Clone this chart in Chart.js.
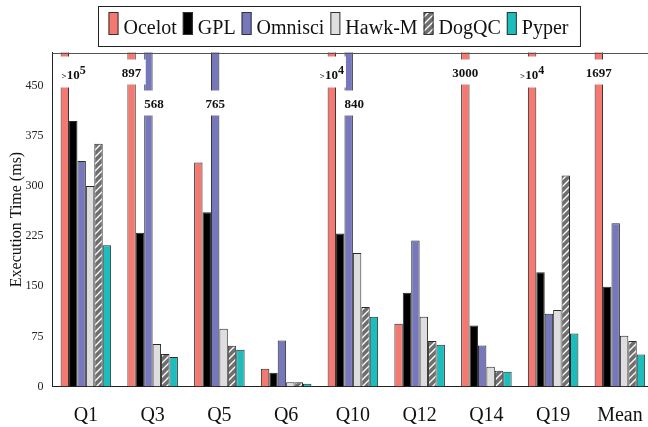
<!DOCTYPE html>
<html>
<head>
<meta charset="utf-8">
<script src="https://cdn.jsdelivr.net/npm/chart.js@4.4.1/dist/chart.umd.min.js"></script>
<style>
  html, body { margin: 0; padding: 0; background: #fff; overflow: hidden; width: 648px; height: 427px; }
  #wrap { position: relative; width: 660px; height: 427px; }
</style>
</head>
<body>
<div id="wrap"><canvas id="c" width="660" height="427"></canvas></div>
<script>
// Query execution times (ms); values beyond the axis are drawn clipped with a value label.
const categories = ['Q1', 'Q3', 'Q5', 'Q6', 'Q10', 'Q12', 'Q14', 'Q19', 'Mean'];
const seriesNames = ['Ocelot', 'GPL', 'Omnisci', 'Hawk-M', 'DogQC', 'Pyper'];
const ocelot  = [100000, 897, 335.5, 26.5, 10000, 94, 3000, 10000, 1697];
const gpl     = [397.5, 230, 261, 20.5, 229, 140.5, 91.5, 171, 149.5];
const omnisci = [337.5, 568, 765, 69, 840, 218.5, 61.5, 109, 244.5];
const hawkM   = [300, 63.5, 86.5, 6.5, 200, 104.5, 29.5, 114.5, 76];
const dogqc   = [363.5, 48.5, 61, 6.5, 119, 68, 23.5, 316, 68];
const pyper   = [211.5, 44, 55, 4, 104.5, 62.5, 22, 79.5, 48];
const yTicks  = [0, 75, 150, 225, 300, 375, 450];
const yMax = 500;

const SERIF = '"Liberation Serif", "Times New Roman", serif';

// gray fill with white diagonal hatching
function hatch() {
  const s = 7;
  const c = document.createElement('canvas');
  c.width = s; c.height = s;
  const g = c.getContext('2d');
  g.fillStyle = '#6e6e6e';
  g.fillRect(0, 0, s, s);
  g.strokeStyle = '#ffffff';
  g.lineWidth = 1.3;
  g.beginPath();
  g.moveTo(-1, s + 1); g.lineTo(s + 1, -1);
  g.moveTo(-1, 1); g.lineTo(1, -1);
  g.moveTo(s - 1, s + 1); g.lineTo(s + 1, s - 1);
  g.stroke();
  return g.createPattern(c, 'repeat');
}

const fills = ['#f47a71', '#000000', '#7778bb', '#dedede', hatch(), '#1ebdbd'];
const values = [ocelot, gpl, omnisci, hawkM, dogqc, pyper];

// white-boxed labels for bars that run past the top of the axis
const overflowLabels = {
  id: 'overflowLabels',
  afterDatasetsDraw(chart) {
    const { ctx, chartArea: a, scales: { y } } = chart;
    const ocMeta = chart.getDatasetMeta(0);
    const last = chart.data.datasets.length - 1;
    chart.data.datasets.forEach((ds, di) => {
      const meta = chart.getDatasetMeta(di);
      ds.data.forEach((v, i) => {
        if (v <= y.max) return;
        const bar = meta.data[i];
        const sup = v >= 10000;
        let parts;
        if (sup) {
          const exp = Math.round(Math.log10(v));
          parts = [
            { t: '>', f: 'bold 9px ' + SERIF, dy: 0 },
            { t: '10', f: 'bold 13px ' + SERIF, dy: 0 },
            { t: String(exp), f: 'bold 12px ' + SERIF, dy: -5 }
          ];
        } else {
          parts = [{ t: String(v), f: 'bold 13px ' + SERIF, dy: 0 }];
        }
        ctx.save();
        let tw = 0;
        parts.forEach(p => { ctx.font = p.f; p.w = ctx.measureText(p.t).width; tw += p.w; });
        let bw = tw + 15;
        const bh = sup ? 31 : 25;
        const cy = di === 0 ? a.top + 19.5 : a.top + 50.5;
        let left = bar.x - bw / 2;
        const textCenter = bar.x;
        if (di !== 0) {
          const oc = ocMeta.data[i];
          const ocRight = oc.x + oc.width / 2;
          if (oc.y < cy + bh / 2 && left < ocRight + 1) left = ocRight + 1;
        }
        if (left < a.left + 1.5) left = a.left + 1.5;
        let tx = left + (bw - tw) / 2;
        // keep taller neighbouring bars of the same group visible beside the box
        for (let dj = di + 1; dj <= last; dj++) {
          const nb = chart.getDatasetMeta(dj).data[i];
          if (nb && nb.y < cy - bh / 2) {
            const limit = nb.x - nb.width / 2 + 1.5;
            if (left + bw > limit) bw = Math.max(limit - left, tw + 2);
            break;
          }
        }
        ctx.fillStyle = '#ffffff';
        ctx.fillRect(left, cy - bh / 2, bw, bh);
        ctx.fillStyle = '#111111';
        ctx.textBaseline = 'alphabetic';
        ctx.textAlign = 'left';
        let x = Math.min(tx, left + bw - tw);
        const base = cy + (sup ? 7 : 5);
        parts.forEach(p => { ctx.font = p.f; ctx.fillText(p.t, x, base + p.dy); x += p.w; });
        ctx.restore();
      });
    });
  }
};

// top frame line of the plot area
const frame = {
  id: 'frame',
  afterDraw(chart) {
    const { ctx, chartArea: a } = chart;
    ctx.save();
    ctx.strokeStyle = '#555555';
    ctx.lineWidth = 1;
    ctx.beginPath();
    ctx.moveTo(a.left, Math.round(a.top) + 0.5);
    ctx.lineTo(a.right, Math.round(a.top) + 0.5);
    ctx.lineTo(a.right, a.bottom);
    ctx.stroke();
    ctx.restore();
  }
};

// boxed legend on a single row above the plot
const boxLegend = {
  id: 'boxLegend',
  afterDraw(chart) {
    const ctx = chart.ctx;
    ctx.save();
    ctx.font = '20px ' + SERIF;
    const sw = 10, sh = 23, gapTxt = 5, gapItem = 6, padL = 10, padR = 12;
    const items = chart.data.datasets.map(d => ({ label: d.label, fill: d.backgroundColor, w: ctx.measureText(d.label).width }));
    const total = padL + padR + items.reduce((s, it) => s + sw + gapTxt + it.w, 0) + gapItem * (items.length - 1);
    const x0 = Math.round(338.5 - total / 2) + 0.5;
    const top = 6.5, h = 40;
    ctx.fillStyle = '#ffffff';
    ctx.fillRect(x0, top, total, h);
    ctx.strokeStyle = '#222222';
    ctx.lineWidth = 1;
    ctx.strokeRect(x0, top, total, h);
    let x = x0 + padL;
    items.forEach(it => {
      ctx.fillStyle = it.fill;
      ctx.fillRect(x, 12, sw, sh);
      ctx.strokeStyle = '#333333';
      ctx.strokeRect(x + 0.5, 12.5, sw - 1, sh - 1);
      x += sw + gapTxt;
      ctx.fillStyle = '#111111';
      ctx.textBaseline = 'alphabetic';
      ctx.fillText(it.label, x, 33.5);
      x += it.w + gapItem;
    });
    ctx.restore();
  }
};

new Chart(document.getElementById('c'), {
  type: 'bar',
  data: {
    labels: categories,
    datasets: seriesNames.map((name, k) => ({
      label: name,
      data: values[k],
      backgroundColor: fills[k],
      borderColor: '#2a2a2a',
      borderWidth: 1,
      categoryPercentage: 0.757,
      barPercentage: 1
    }))
  },
  options: {
    responsive: false,
    devicePixelRatio: 1,
    animation: false,
    layout: { padding: { top: 52.5, right: 6, left: 0, bottom: 0 } },
    plugins: { legend: { display: false }, tooltip: { enabled: false } },
    scales: {
      x: {
        grid: { display: false, drawTicks: false },
        border: { display: true, color: '#222222', width: 1 },
        ticks: { font: { family: SERIF, size: 20 }, color: '#111111', padding: 17 },
        afterFit(s) { s.height = 40.5; }
      },
      y: {
        min: 0,
        max: yMax,
        grid: { display: false, drawTicks: false },
        border: { display: true, color: '#222222', width: 1 },
        ticks: { font: { family: SERIF, size: 12 }, color: '#222222', padding: 9 },
        afterBuildTicks(s) { s.ticks = yTicks.map(v => ({ value: v })); },
        afterFit(s) { s.width = 52.5; },
        title: {
          display: true,
          text: 'Execution Time (ms)',
          font: { family: SERIF, size: 16 },
          color: '#111111',
          padding: { top: 7, bottom: 0 }
        }
      }
    }
  },
  plugins: [overflowLabels, frame, boxLegend]
});
</script>
</body>
</html>
